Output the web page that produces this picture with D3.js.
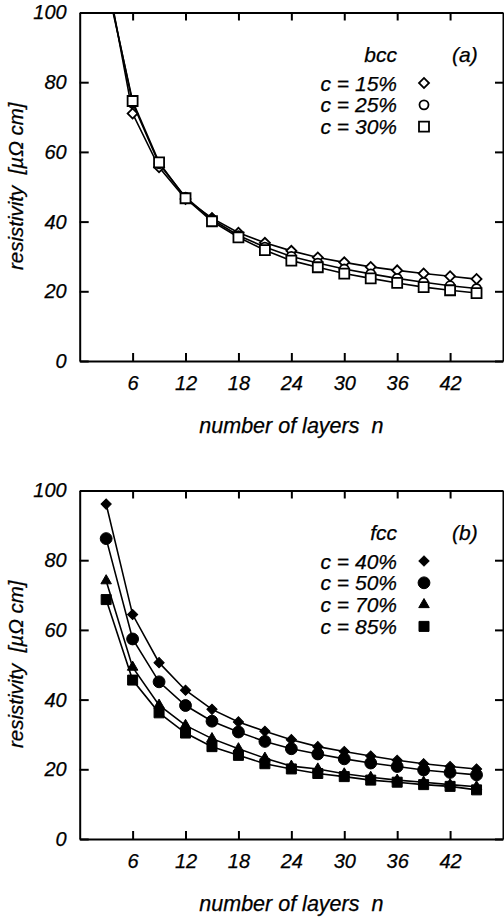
<!DOCTYPE html>
<html>
<head>
<meta charset="utf-8">
<script src="https://cdn.jsdelivr.net/npm/d3@7"></script>
<style>
  body { margin: 0; background: #fff; }
  text { font-family: "Liberation Sans", Arial, Helvetica, sans-serif; font-style: italic; fill: #000; stroke: #000; stroke-width: 0.25px; }
  .axis path, .axis line { stroke: #000; stroke-width: 2; }
</style>
</head>
<body>
<div id="chart"></div>
<script>
// number of layers n
const layers = [3, 6, 9, 12, 15, 18, 21, 24, 27, 30, 33, 36, 39, 42, 45];
const xTicks = [6, 12, 18, 24, 30, 36, 42];
const yTicks = [0, 20, 40, 60, 80, 100];

// (a) bcc, resistivity in µΩ cm
const bccLabels = ['c = 15%', 'c = 25%', 'c = 30%'];
const bcc15 = [112, 71.0, 55.6, 46.5, 41.0, 36.8, 33.9, 31.6, 29.7, 28.3, 27.0, 26.0, 25.1, 24.3, 23.5];
const bcc25 = [110, 74.0, 56.6, 47.0, 40.6, 36.0, 32.7, 30.0, 28.1, 26.4, 25.0, 23.7, 22.6, 21.6, 20.8];
const bcc30 = [109, 74.6, 57.0, 46.7, 40.1, 35.5, 31.8, 28.8, 26.9, 25.1, 23.7, 22.4, 21.2, 20.3, 19.5];

// (b) fcc
const fccLabels = ['c = 40%', 'c = 50%', 'c = 70%', 'c = 85%'];
const fcc40 = [96.1, 64.4, 50.6, 42.7, 37.2, 33.6, 30.9, 28.5, 26.5, 25.1, 23.8, 22.6, 21.6, 20.8, 20.1];
const fcc50 = [86.2, 57.4, 45.1, 38.3, 33.8, 30.7, 28.0, 25.9, 24.4, 23.0, 21.8, 20.8, 19.8, 19.1, 18.4];
const fcc70 = [74.1, 49.3, 38.4, 32.6, 28.8, 25.9, 23.2, 20.9, 20.1, 18.7, 17.7, 16.9, 16.3, 15.6, 15.0];
const fcc85 = [68.7, 45.6, 36.2, 30.4, 26.5, 24.0, 21.6, 20.1, 18.8, 17.9, 16.9, 16.3, 15.6, 15.1, 14.1];

const W = 504, H = 920;
const svg = d3.select('#chart').append('svg')
  .attr('width', W)
  .attr('height', H);

const x = d3.scaleLinear().domain([0, 48]).range([79.7, 503]);

const sym = {
  diamond: d3.symbol().type(d3.symbolSquare).size(50),
  circle: d3.symbol().type(d3.symbolCircle).size(64),
  square: d3.symbol().type(d3.symbolSquare).size(100),
  diamondF: d3.symbol().type(d3.symbolSquare).size(52),
  circleF: d3.symbol().type(d3.symbolCircle).size(110),
  triangleF: d3.symbol().type(d3.symbolTriangle).size(48),
  squareF: d3.symbol().type(d3.symbolSquare).size(100)
};

function panel(id, top, bottom, series, info) {
  const y = d3.scaleLinear().domain([0, 100]).range([bottom, top]);
  const g = svg.append('g');

  g.append('clipPath').attr('id', 'clip' + id)
    .append('rect')
    .attr('x', x(0)).attr('y', y(100))
    .attr('width', x(48) - x(0)).attr('height', y(0) - y(100));

  const plot = g.append('g').attr('clip-path', `url(#clip${id})`);
  const line = d3.line().x((d, i) => x(layers[i])).y(d => y(d));

  series.forEach(s => {
    plot.append('path')
      .datum(s.values)
      .attr('d', line)
      .attr('fill', 'none')
      .attr('stroke', '#000')
      .attr('stroke-width', 1.6);
  });
  series.forEach(s => {
    plot.selectAll(null)
      .data(s.values)
      .enter()
      .append('path')
      .attr('d', sym[s.shape])
      .attr('transform', (d, i) => `translate(${x(layers[i])},${y(d)})` + (s.rotate ? ' rotate(45)' : ''))
      .attr('fill', s.open ? '#fff' : '#000')
      .attr('stroke', '#000')
      .attr('stroke-width', s.open ? 1.8 : 1);
  });

  // axes, ticks point inward on all four sides
  g.append('g').attr('class', 'axis')
    .attr('transform', `translate(0,${y(0)})`)
    .call(d3.axisBottom(x).tickValues(xTicks).tickSize(-8).tickSizeOuter(0).tickPadding(15))
    .selectAll('text').attr('font-size', 20);
  g.append('g').attr('class', 'axis')
    .attr('transform', `translate(0,${y(100)})`)
    .call(d3.axisTop(x).tickValues(xTicks).tickSize(-8).tickSizeOuter(0).tickFormat(''));
  g.append('g').attr('class', 'axis')
    .attr('transform', `translate(${x(0)},0)`)
    .call(d3.axisLeft(y).tickValues(yTicks).tickSize(-9).tickSizeOuter(0).tickPadding(13))
    .selectAll('text').attr('font-size', 20);
  g.append('g').attr('class', 'axis')
    .attr('transform', `translate(${x(48)},0)`)
    .call(d3.axisRight(y).tickValues(yTicks).tickSize(-8).tickSizeOuter(0).tickFormat(''));
  g.selectAll('.axis .domain').attr('stroke-width', 2.2);

  g.append('text')
    .attr('x', (x(0) + x(48)) / 2)
    .attr('y', y(0) + 72)
    .attr('text-anchor', 'middle')
    .attr('font-size', 21.5)
    .attr('xml:space', 'preserve')
    .text('number of layers  n');

  g.append('text')
    .attr('transform', `translate(23,${y(0) - 91}) rotate(-90)`)
    .attr('text-anchor', 'start')
    .attr('font-size', 20.5)
    .attr('xml:space', 'preserve')
    .text('resistivity  [µΩ cm]');

  // legend
  g.append('text')
    .attr('x', 397).attr('y', top + 49)
    .attr('text-anchor', 'end')
    .attr('font-size', 21)
    .text(info.title);
  g.append('text')
    .attr('x', 452).attr('y', top + 49)
    .attr('font-size', 21)
    .text(info.tag);
  series.forEach((s, i) => {
    const cy = top + 70.5 + i * 21.8;
    g.append('text')
      .attr('x', 397).attr('y', cy + 7.5)
      .attr('text-anchor', 'end')
      .attr('font-size', 21)
      .text(s.label);
    g.append('path')
      .attr('d', sym[s.shape])
      .attr('transform', `translate(424,${cy})` + (s.rotate ? ' rotate(45)' : ''))
      .attr('fill', s.open ? '#fff' : '#000')
      .attr('stroke', '#000')
      .attr('stroke-width', s.open ? 1.8 : 1);
  });
}

panel('a', 12.5, 361, [
  { values: bcc15, label: bccLabels[0], shape: 'diamond', rotate: true, open: true },
  { values: bcc25, label: bccLabels[1], shape: 'circle', open: true },
  { values: bcc30, label: bccLabels[2], shape: 'square', open: true }
], { title: 'bcc', tag: '(a)' });

panel('b', 490.5, 839, [
  { values: fcc40, label: fccLabels[0], shape: 'diamondF', rotate: true },
  { values: fcc50, label: fccLabels[1], shape: 'circleF' },
  { values: fcc70, label: fccLabels[2], shape: 'triangleF' },
  { values: fcc85, label: fccLabels[3], shape: 'squareF' }
], { title: 'fcc', tag: '(b)' });
</script>
</body>
</html>
